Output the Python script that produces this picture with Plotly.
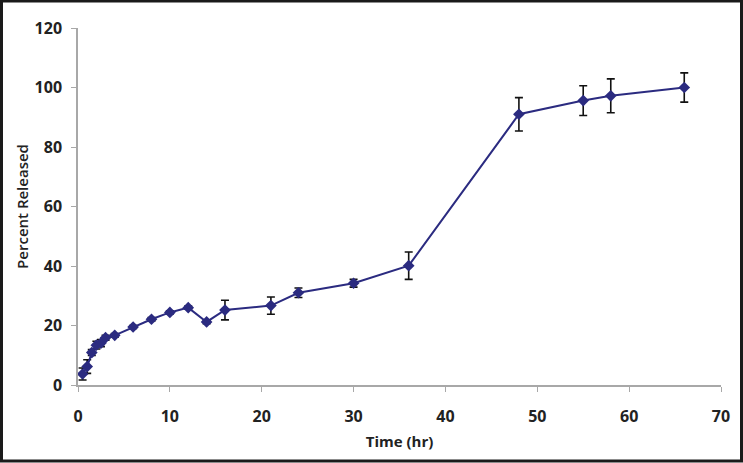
import plotly.graph_objects as go

time_hr = [0.5, 1, 1.5, 2, 2.5, 3, 4, 6, 8, 10, 12, 14, 16, 21, 24, 30, 36, 48, 55, 58, 66]
percent_released = [3.7, 6.2, 10.9, 13.4, 14.1, 15.9, 16.7, 19.5, 22.1, 24.4, 26.0, 21.2, 25.2, 26.7, 31.0, 34.2, 40.1, 91.0, 95.6, 97.2, 100.0]
error = [2.0, 2.3, 1.0, 1.3, 1.2, 0.8, 0.6, 0.5, 0.6, 0.5, 0.5, 0.6, 3.3, 2.9, 1.6, 1.3, 4.6, 5.6, 5.0, 5.7, 4.9]

x_ticks = [0, 10, 20, 30, 40, 50, 60, 70]
y_ticks = [0, 20, 40, 60, 80, 100, 120]

W, H = 743, 463
ml, mr, mt, mb = 78, 22, 28, 78
pw, ph = W - ml - mr, H - mt - mb

fig = go.Figure()
fig.add_trace(go.Scatter(
    x=time_hr, y=percent_released,
    mode="lines+markers",
    line=dict(color="#2b2b80", width=2),
    marker=dict(symbol="diamond", size=9, color="#2b2b80"),
    error_y=dict(type="data", array=error, visible=True, color="#111111", thickness=1.6, width=4),
    showlegend=False,
))

font_family = "Open Sans, Liberation Sans, sans-serif"

fig.update_layout(
    width=W, height=H,
    margin=dict(l=ml, r=mr, t=mt, b=mb),
    paper_bgcolor="white", plot_bgcolor="white",
    font=dict(family=font_family, color="#222222"),
    xaxis=dict(
        range=[0, 70], tickvals=x_ticks, ticktext=[str(v) for v in x_ticks],
        showgrid=False, zeroline=False,
        showline=True, linecolor="#a8a8a8", linewidth=1.5,
        ticks="outside", ticklen=5, tickcolor="#a8a8a8",
        ticklabelstandoff=11,
        tickfont=dict(size=16, family=font_family, weight="bold", color="#222222"),
        title=dict(text="<b>Time (hr)</b>", font=dict(size=15, family=font_family), standoff=11),
    ),
    yaxis=dict(
        range=[0, 120], tickvals=y_ticks, ticktext=[str(v) for v in y_ticks],
        showgrid=False, zeroline=False,
        showline=True, linecolor="#a8a8a8", linewidth=1.5,
        ticks="outside", ticklen=5, tickcolor="#a8a8a8",
        ticklabelstandoff=6,
        tickfont=dict(size=16, family=font_family, weight="bold", color="#222222"),
        title=dict(text="Percent Released", font=dict(size=15, family=font_family, weight=600), standoff=2),
    ),
    shapes=[dict(
        type="rect", xref="paper", yref="paper",
        x0=(1.5 - ml) / pw, x1=1 + (mr - 1.5) / pw,
        y0=-(mb - 2) / ph, y1=1 + (mt - 1) / ph,
        line=dict(color="#1a1a1a", width=3), fillcolor="rgba(0,0,0,0)", layer="above",
    )],
)

fig.write_html(
    "out.html",
    config={"displayModeBar": False},
    post_script="document.body.style.margin='0';document.body.style.overflow='hidden';",
)
